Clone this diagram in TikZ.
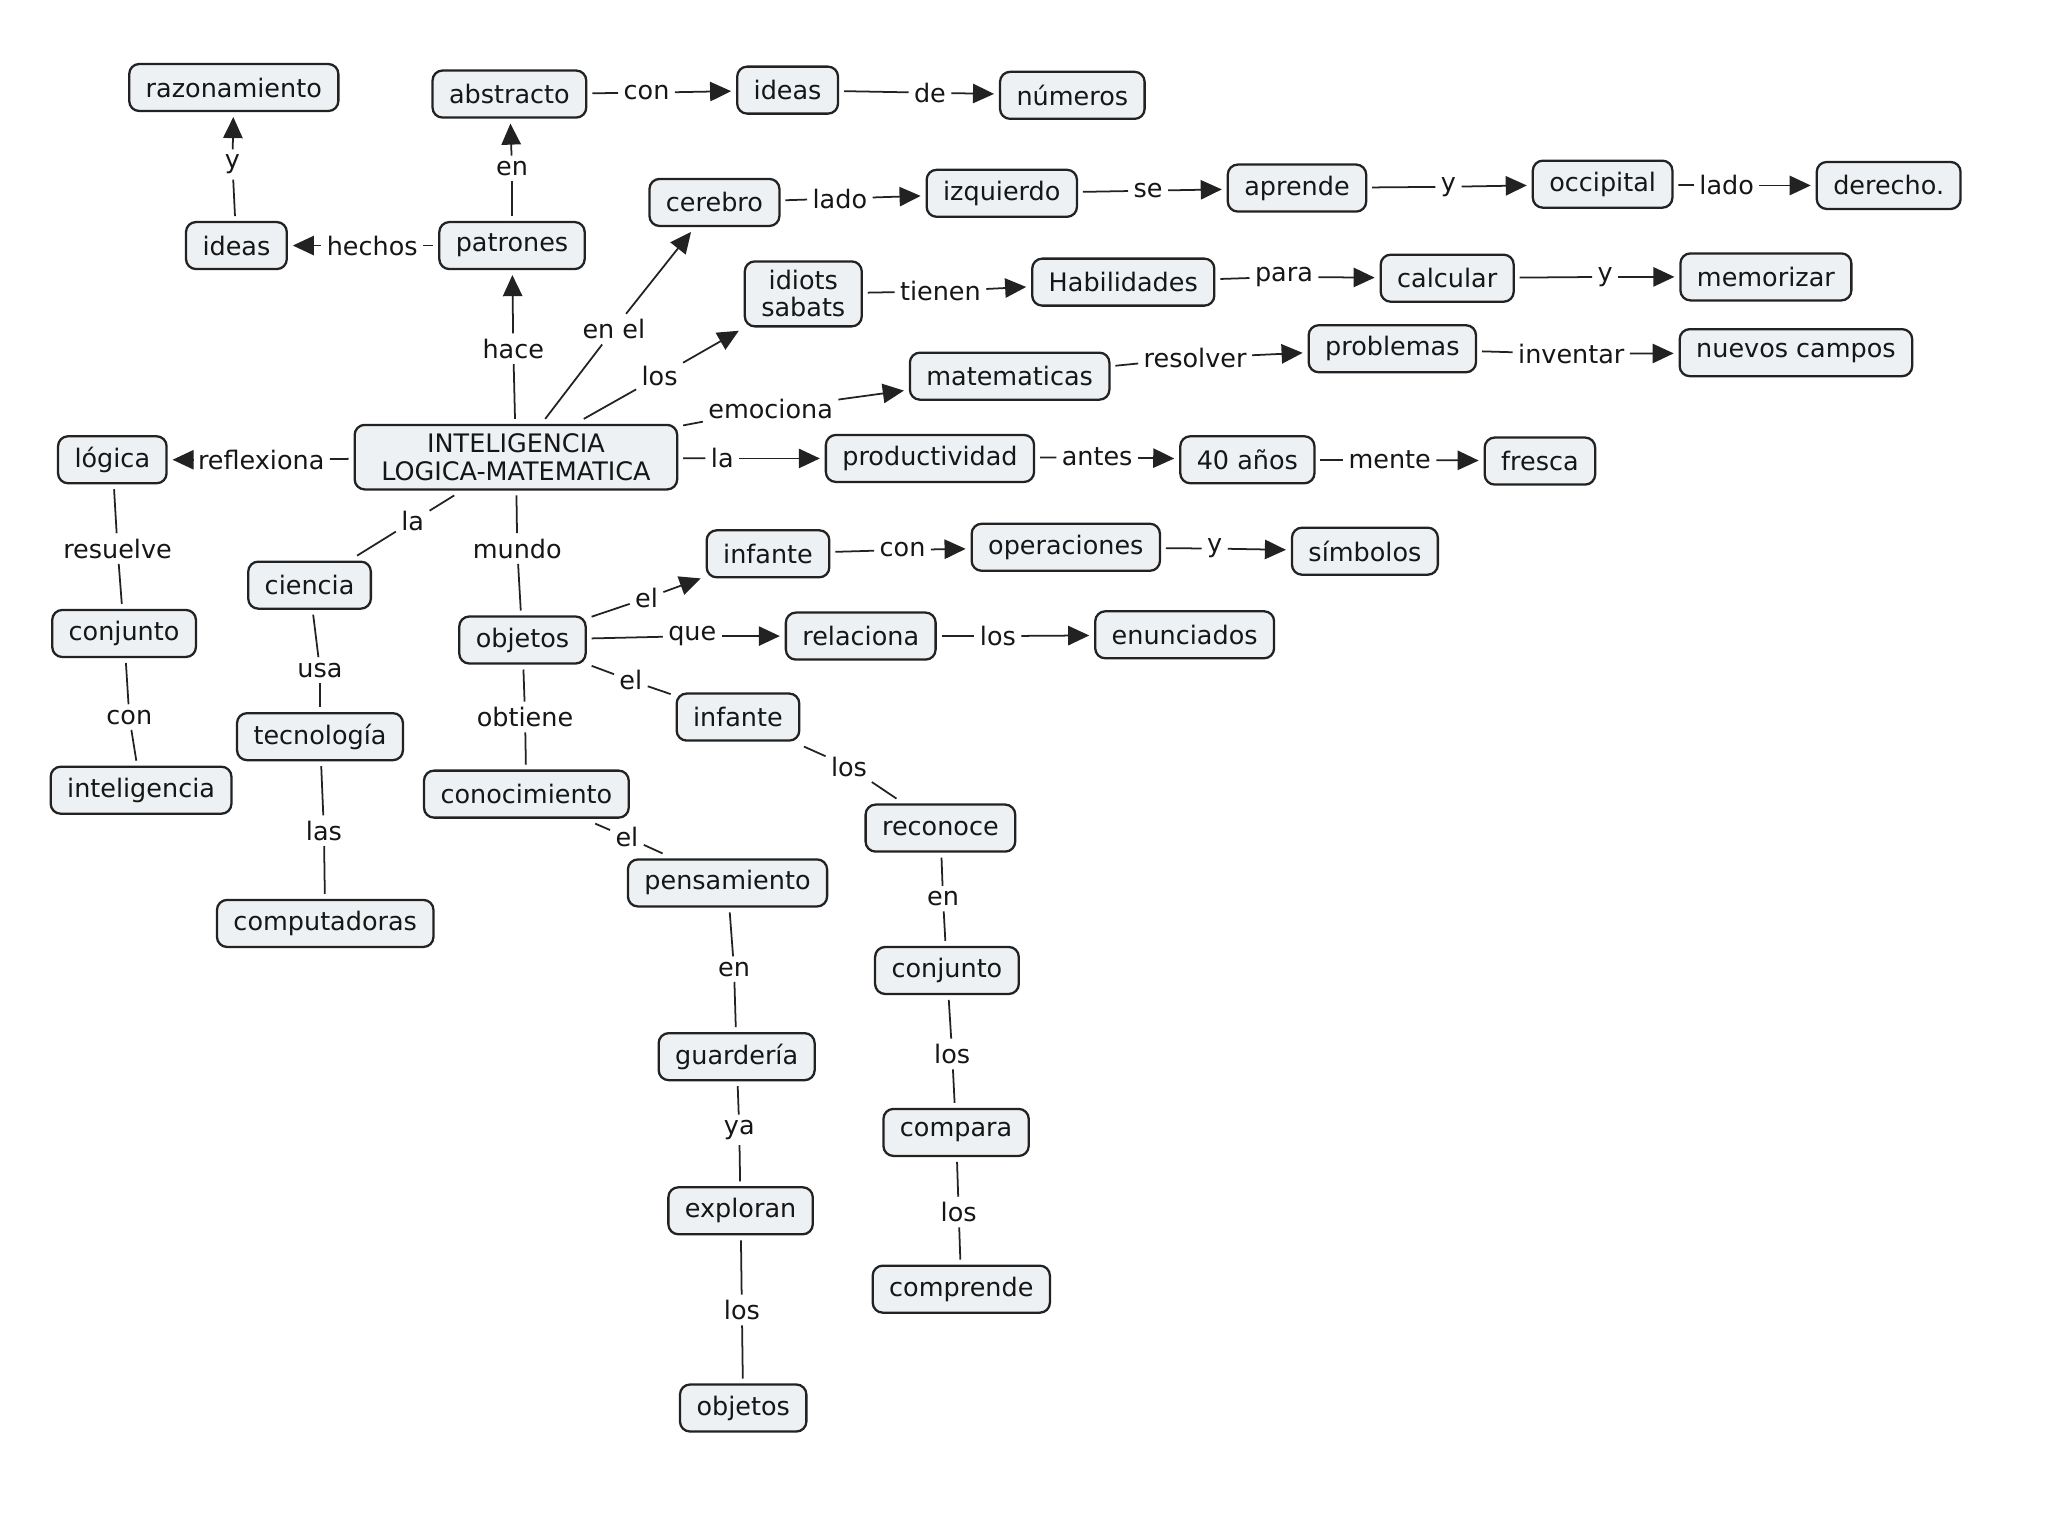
\documentclass[tikz,border=0pt]{standalone}
\usepackage{fontspec}
\setmainfont{DejaVu Sans}
\usetikzlibrary{arrows.meta}
\definecolor{cfill}{HTML}{EDF1F3}
\definecolor{cline}{HTML}{222222}
\definecolor{ctext}{HTML}{161616}
\begin{document}
\begin{tikzpicture}[x=0.026122cm, y=-0.026122cm,
  font=\fontsize{14.5}{15.5}\selectfont, text=ctext,
  concept/.style={draw=cline, fill=cfill, rounded corners=0.2cm, line width=1.3pt,
    minimum height=0.94cm, inner xsep=0.33cm, inner ysep=0.18cm, align=center, outer sep=0.12cm},
  lbl/.style={inner sep=0.08cm, outer sep=0.03cm},
  link/.style={draw=cline, line width=1pt},
  arr/.style={link, -{Triangle[length=12pt,width=11pt]}}]
\useasboundingbox[fill=white] (0,0) rectangle (1568,1176);
% concepts
\node[concept] (razon) at (179,67) {razonamiento};
\node[concept] (abstr) at (390,72) {abstracto};
\node[concept] (ideasT) at (603,69) {ideas};
\node[concept] (numeros) at (821,73) {números};
\node[concept] (ideasL) at (181,188) {ideas};
\node[concept] (patrones) at (392,188) {patrones};
\node[concept] (cerebro) at (547,155) {cerebro};
\node[concept] (izq) at (767,148) {izquierdo};
\node[concept] (aprende) at (993,144) {aprende};
\node[concept] (occ) at (1227,141) {occipital};
\node[concept] (derecho) at (1446,142) {derecho.};
\node[concept] (idiots) at (615,225) {idiots\\sabats};
\node[concept] (habil) at (860,216) {Habilidades};
\node[concept] (calc) at (1108,213) {calcular};
\node[concept] (memo) at (1352,212) {memorizar};
\node[concept] (mate) at (773,288) {matematicas};
\node[concept] (probl) at (1066,267) {problemas};
\node[concept] (nuevos) at (1375,270) {nuevos campos};
\node[concept, minimum width=6.45cm] (main) at (395,350) {INTELIGENCIA\\LOGICA-MATEMATICA};
\node[concept] (logica) at (86,352) {lógica};
\node[concept] (prod) at (712,351) {productividad};
\node[concept] (anos) at (955,352) {40 años};
\node[concept] (fresca) at (1179,353) {fresca};
\node[concept] (ciencia) at (237,448) {ciencia};
\node[concept] (infT) at (588,424) {infante};
\node[concept] (oper) at (816,419) {operaciones};
\node[concept] (simb) at (1045,422) {símbolos};
\node[concept] (conjL) at (95,485) {conjunto};
\node[concept] (objetos) at (400,490) {objetos};
\node[concept] (relac) at (659,487) {relaciona};
\node[concept] (enunc) at (907,486) {enunciados};
\node[concept] (infM) at (565,549) {infante};
\node[concept] (tecno) at (245,564) {tecnología};
\node[concept] (intel) at (108,605) {inteligencia};
\node[concept] (conoc) at (403,608) {conocimiento};
\node[concept] (recon) at (720,634) {reconoce};
\node[concept] (pens) at (557,676) {pensamiento};
\node[concept] (comput) at (249,707) {computadoras};
\node[concept] (conjR) at (725,743) {conjunto};
\node[concept] (guard) at (564,809) {guardería};
\node[concept] (compara) at (732,867) {compara};
\node[concept] (explor) at (567,927) {exploran};
\node[concept] (compr) at (736,987) {comprende};
\node[concept] (objB) at (569,1078) {objetos};
% linking phrases
\node[lbl] (k1) at (178,126) {y};
\node[lbl] (k2) at (392,129) {en};
\node[lbl] (k3) at (285,188) {hechos};
\node[lbl] (k4) at (393,267) {hace};
\node[lbl] (k5) at (470,252) {en el};
\node[lbl] (k6) at (505,288) {los};
\node[lbl] (k7) at (590,313) {emociona};
\node[lbl] (k8) at (553,351) {la};
\node[lbl] (k9) at (200,352) {reflexiona};
\node[lbl] (k10) at (316,399) {la};
\node[lbl] (k11) at (396,420) {mundo};
\node[lbl] (k12) at (495,71) {con};
\node[lbl] (k13) at (712,71) {de};
\node[lbl] (k14) at (643,152) {lado};
\node[lbl] (k15) at (879,146) {se};
\node[lbl] (k16) at (1109,143) {y};
\node[lbl] (k17) at (1322,142) {lado};
\node[lbl] (k18) at (720,223) {tienen};
\node[lbl] (k19) at (983,212) {para};
\node[lbl] (k20) at (1229,212) {y};
\node[lbl] (k21) at (915,274) {resolver};
\node[lbl] (k22) at (1203,271) {inventar};
\node[lbl] (k23) at (840,350) {antes};
\node[lbl] (k24) at (1064,352) {mente};
\node[lbl] (k25) at (90,420) {resuelve};
\node[lbl] (k26) at (99,549) {con};
\node[lbl] (k27) at (245,513) {usa};
\node[lbl] (k28) at (248,636) {las};
\node[lbl] (k29) at (495,458) {el};
\node[lbl] (k30) at (691,421) {con};
\node[lbl] (k31) at (930,420) {y};
\node[lbl] (k32) at (530,487) {que};
\node[lbl] (k33) at (764,487) {los};
\node[lbl] (k34) at (483,521) {el};
\node[lbl] (k35) at (402,549) {obtiene};
\node[lbl] (k36) at (650,587) {los};
\node[lbl] (k37) at (480,641) {el};
\node[lbl] (k38) at (722,688) {en};
\node[lbl] (k39) at (562,742) {en};
\node[lbl] (k40) at (729,807) {los};
\node[lbl] (k41) at (566,865) {ya};
\node[lbl] (k42) at (734,928) {los};
\node[lbl] (k43) at (568,1003) {los};
% connectors with arrows
\foreach \a/\k/\b in {ideasL/k1/razon, patrones/k2/abstr, patrones/k3/ideasL, main/k4/patrones,
  main/k5/cerebro, main/k6/idiots, main/k7/mate, main/k8/prod, main/k9/logica,
  abstr/k12/ideasT, ideasT/k13/numeros, cerebro/k14/izq, izq/k15/aprende, aprende/k16/occ,
  occ/k17/derecho, idiots/k18/habil, habil/k19/calc, calc/k20/memo, mate/k21/probl,
  probl/k22/nuevos, prod/k23/anos, anos/k24/fresca, objetos/k29/infT, infT/k30/oper,
  oper/k31/simb, objetos/k32/relac, relac/k33/enunc}
  {\draw[link] (\a) -- (\k); \draw[arr] (\k) -- (\b);}
% connectors without arrows
\foreach \a/\k/\b in {main/k10/ciencia, main/k11/objetos, logica/k25/conjL, conjL/k26/intel,
  ciencia/k27/tecno, tecno/k28/comput, objetos/k34/infM, objetos/k35/conoc, infM/k36/recon,
  conoc/k37/pens, recon/k38/conjR, pens/k39/guard, conjR/k40/compara, guard/k41/explor,
  compara/k42/compr, explor/k43/objB}
  {\draw[link] (\a) -- (\k); \draw[link] (\k) -- (\b);}
\end{tikzpicture}
\end{document}
